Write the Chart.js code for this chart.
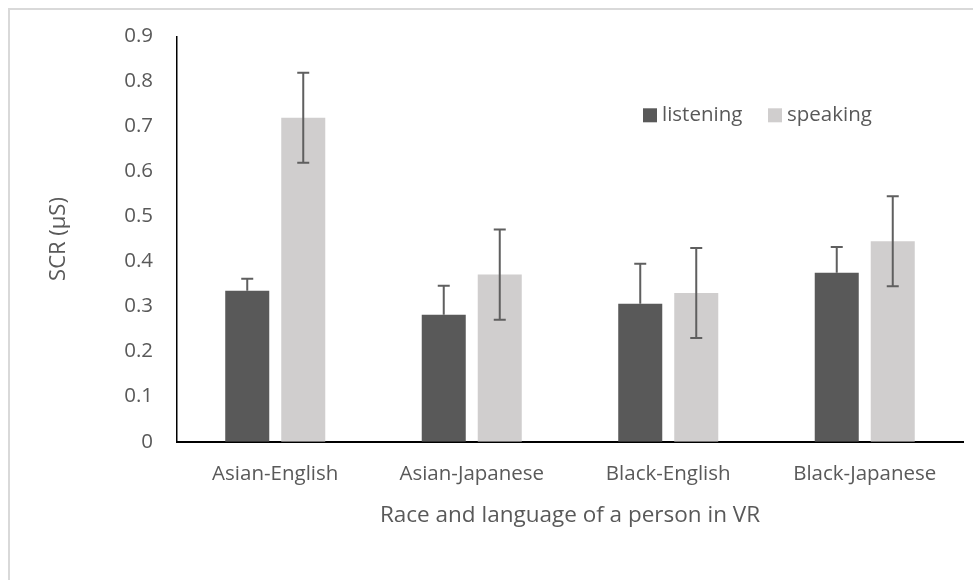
<!DOCTYPE html>
<html>
<head>
<meta charset="utf-8">
<script src="https://cdn.jsdelivr.net/npm/chart.js@4.4.1/dist/chart.umd.min.js"></script>
<style>
  html, body { margin: 0; padding: 0; background: #fff; }
  #wrap { position: relative; width: 973px; height: 580px; overflow: hidden; }
  #frame { position: absolute; left: 8px; top: 8px; width: 1000px; height: 600px;
           border-top: 2px solid #d9d9d9; border-left: 2px solid #d9d9d9; }
  canvas { position: absolute; left: 0; top: 0; }
</style>
</head>
<body>
<div id="wrap">
  <div id="frame"></div>
  <canvas id="chart" width="973" height="580"></canvas>
</div>
<script>
const categories = ['Asian-English', 'Asian-Japanese', 'Black-English', 'Black-Japanese'];
const listening = [0.335, 0.282, 0.306, 0.375];
const listeningErr = [0.027, 0.064, 0.089, 0.057];
const speaking = [0.719, 0.371, 0.330, 0.445];
const speakingErr = [0.100, 0.100, 0.100, 0.100];
const yTicks = [0, 0.1, 0.2, 0.3, 0.4, 0.5, 0.6, 0.7, 0.8, 0.9];

const TEXT = '#595959';
const FONT = "'Open Sans', sans-serif";

// error bars: listening only shows the upper half (lower half sits inside the dark bar)
const errorBarsPlugin = {
  id: 'errorBars',
  afterDatasetsDraw(chart) {
    const ctx = chart.ctx;
    const ys = chart.scales.y;
    ctx.save();
    ctx.strokeStyle = '#5f5f5f';
    ctx.lineWidth = 2;
    chart.data.datasets.forEach((ds, i) => {
      const meta = chart.getDatasetMeta(i);
      meta.data.forEach((bar, j) => {
        const v = ds.data[j], e = ds.errors[j];
        const top = ys.getPixelForValue(v + e);
        const bot = ds.plusOnly ? ys.getPixelForValue(v) : ys.getPixelForValue(v - e);
        ctx.beginPath();
        ctx.moveTo(bar.x, top); ctx.lineTo(bar.x, bot);
        ctx.moveTo(bar.x - 6, top); ctx.lineTo(bar.x + 6, top);
        if (!ds.plusOnly) { ctx.moveTo(bar.x - 6, bot); ctx.lineTo(bar.x + 6, bot); }
        ctx.stroke();
      });
    });
    ctx.restore();
  }
};

// legend drawn inside the plot area, upper right
const insideLegend = {
  id: 'insideLegend',
  afterDraw(chart) {
    const ctx = chart.ctx;
    const area = chart.chartArea;
    const y = area.top + 79;
    let x = area.left + 466;
    ctx.save();
    ctx.font = `20.5px ${FONT}`;
    ctx.textBaseline = 'middle';
    ctx.textAlign = 'left';
    chart.data.datasets.forEach((ds) => {
      ctx.fillStyle = ds.backgroundColor;
      ctx.fillRect(x, y - 7, 14, 14);
      ctx.fillStyle = TEXT;
      ctx.fillText(ds.label, x + 19, y);
      x += 125;
    });
    ctx.restore();
  }
};

new Chart(document.getElementById('chart'), {
  type: 'bar',
  data: {
    labels: categories,
    datasets: [
      { label: 'listening', data: listening, errors: listeningErr, plusOnly: true,
        backgroundColor: '#595959', categoryPercentage: 0.57, barPercentage: 0.786 },
      { label: 'speaking', data: speaking, errors: speakingErr, plusOnly: false,
        backgroundColor: '#d0cece', categoryPercentage: 0.57, barPercentage: 0.786 }
    ]
  },
  options: {
    responsive: false,
    animation: false,
    layout: { padding: { left: 10, right: 10, top: 31, bottom: 0 } },
    plugins: { legend: { display: false }, tooltip: { enabled: false } },
    scales: {
      x: {
        grid: { display: false, drawTicks: false },
        border: { color: '#000', width: 2 },
        ticks: { color: TEXT, font: { family: FONT, size: 20.5 }, padding: 20 },
        title: { display: true, text: 'Race and language of a person in VR', color: TEXT,
                 font: { family: FONT, size: 22.5 }, padding: { top: 0, bottom: 51 } },
        afterFit(scale) { scale.height = 580 - 441.7; }
      },
      y: {
        min: 0, max: 0.9,
        grid: { display: false, drawTicks: false },
        border: { color: '#000', width: 1.5 },
        afterBuildTicks(scale) { scale.ticks = yTicks.map(v => ({ value: v })); },
        ticks: { color: TEXT, font: { family: FONT, size: 20.5 }, padding: 24,
                 callback: (v) => String(v) },
        title: { display: true, text: 'SCR (µS)', color: TEXT,
                 font: { family: FONT, size: 22 }, padding: { top: 36, bottom: 0 } },
        afterFit(scale) { scale.width = 177 - 10; }
      }
    }
  },
  plugins: [errorBarsPlugin, insideLegend]
});
</script>
</body>
</html>
